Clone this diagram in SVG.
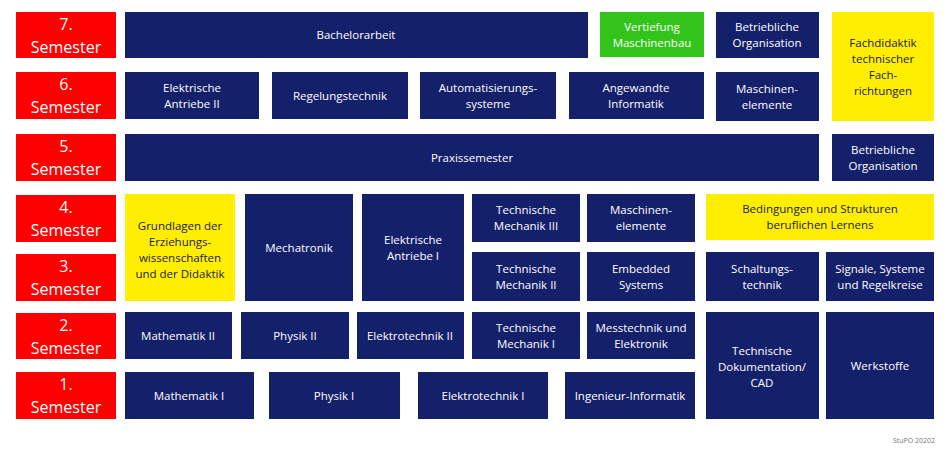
<svg xmlns="http://www.w3.org/2000/svg" width="950" height="460" viewBox="0 0 950 460">
<style>
text{font-family:"Open Sans","Liberation Sans",sans-serif;text-anchor:middle;font-size:11.5px;fill:#fff}
.s rect{fill:#ff0000}
.s text{font-size:16px}
.n rect{fill:#15206b}
.y rect{fill:#ffee00}
.y text{fill:#1a1a40}
.g rect{fill:#33c41c}
</style>
<rect width="950" height="460" fill="#fff"/>
<g class="s" id="sem7"><rect x="16" y="12" width="100" height="46"/><text x="66" y="30">7.</text><text x="66" y="53">Semester</text></g>
<g class="s" id="sem6"><rect x="16" y="72" width="100" height="47"/><text x="66" y="90">6.</text><text x="66" y="113">Semester</text></g>
<g class="s" id="sem5"><rect x="16" y="134" width="100" height="47"/><text x="66" y="152">5.</text><text x="66" y="175">Semester</text></g>
<g class="s" id="sem4"><rect x="16" y="195" width="100" height="47"/><text x="66" y="213">4.</text><text x="66" y="236">Semester</text></g>
<g class="s" id="sem3"><rect x="16" y="254" width="100" height="47"/><text x="66" y="272">3.</text><text x="66" y="295">Semester</text></g>
<g class="s" id="sem2"><rect x="16" y="313" width="100" height="46"/><text x="66" y="331">2.</text><text x="66" y="354">Semester</text></g>
<g class="s" id="sem1"><rect x="16" y="372" width="100" height="47"/><text x="66" y="390">1.</text><text x="66" y="413">Semester</text></g>

<g class="n" id="bachelor"><rect x="125" y="12" width="463" height="46"/><text x="356" y="39">Bachelorarbeit</text></g>
<g class="g" id="vertiefung"><rect x="600" y="12" width="104" height="45"/><text x="652" y="31">Vertiefung</text><text x="652" y="47">Maschinenbau</text></g>
<g class="n" id="betorg7"><rect x="716" y="12" width="103" height="46"/><text x="767" y="31">Betriebliche</text><text x="767" y="47">Organisation</text></g>
<g class="y" id="fachdidaktik"><rect x="832" y="12" width="102" height="109"/><text x="883" y="47">Fachdidaktik</text><text x="883" y="63">technischer</text><text x="883" y="79">Fach-</text><text x="883" y="95">richtungen</text></g>

<g class="n" id="ea2"><rect x="125" y="72" width="134" height="47"/><text x="192" y="92">Elektrische</text><text x="192" y="108">Antriebe II</text></g>
<g class="n" id="regel"><rect x="272" y="72" width="136" height="47"/><text x="340" y="100">Regelungstechnik</text></g>
<g class="n" id="auto"><rect x="420" y="72" width="136" height="47"/><text x="488" y="92">Automatisierungs-</text><text x="488" y="108">systeme</text></g>
<g class="n" id="angew"><rect x="569" y="72" width="135" height="47"/><text x="636" y="92">Angewandte</text><text x="636" y="108">Informatik</text></g>
<g class="n" id="masch6"><rect x="716" y="72" width="103" height="49"/><text x="767" y="93">Maschinen-</text><text x="767" y="109">elemente</text></g>

<g class="n" id="praxis"><rect x="125" y="134" width="694" height="47"/><text x="472" y="162">Praxissemester</text></g>
<g class="n" id="betorg5"><rect x="832" y="134" width="102" height="47"/><text x="883" y="154">Betriebliche</text><text x="883" y="170">Organisation</text></g>

<g class="y" id="grundlagen"><rect x="125" y="194" width="110" height="107"/><text x="180" y="230">Grundlagen der</text><text x="180" y="246">Erziehungs-</text><text x="180" y="262">wissenschaften</text><text x="180" y="278">und der Didaktik</text></g>
<g class="n" id="mecha"><rect x="245" y="194" width="108" height="107"/><text x="299" y="252">Mechatronik</text></g>
<g class="n" id="ea1"><rect x="362" y="194" width="102" height="107"/><text x="413" y="244">Elektrische</text><text x="413" y="260">Antriebe I</text></g>
<g class="n" id="tm3"><rect x="472" y="194" width="108" height="48"/><text x="526" y="214">Technische</text><text x="526" y="230">Mechanik III</text></g>
<g class="n" id="masch4"><rect x="587" y="194" width="108" height="48"/><text x="641" y="214">Maschinen-</text><text x="641" y="230">elemente</text></g>
<g class="y" id="bedingungen"><rect x="706" y="194" width="228" height="46"/><text x="820" y="213">Bedingungen und Strukturen</text><text x="820" y="229">beruflichen Lernens</text></g>

<g class="n" id="tm2"><rect x="472" y="252" width="108" height="49"/><text x="526" y="273">Technische</text><text x="526" y="289">Mechanik II</text></g>
<g class="n" id="embedded"><rect x="587" y="252" width="108" height="49"/><text x="641" y="273">Embedded</text><text x="641" y="289">Systems</text></g>
<g class="n" id="schalt"><rect x="706" y="252" width="113" height="49"/><text x="762" y="273">Schaltungs-</text><text x="762" y="289">technik</text></g>
<g class="n" id="signale"><rect x="826" y="252" width="108" height="49"/><text x="880" y="273">Signale, Systeme</text><text x="880" y="289">und Regelkreise</text></g>

<g class="n" id="mathe2"><rect x="125" y="312" width="107" height="47"/><text x="178" y="340">Mathematik II</text></g>
<g class="n" id="physik2"><rect x="241" y="312" width="108" height="47"/><text x="295" y="340">Physik II</text></g>
<g class="n" id="et2"><rect x="357" y="312" width="107" height="47"/><text x="410" y="340">Elektrotechnik II</text></g>
<g class="n" id="tm1"><rect x="472" y="312" width="108" height="47"/><text x="526" y="332">Technische</text><text x="526" y="348">Mechanik I</text></g>
<g class="n" id="mess"><rect x="587" y="312" width="108" height="47"/><text x="641" y="332">Messtechnik und</text><text x="641" y="348">Elektronik</text></g>
<g class="n" id="doku"><rect x="706" y="312" width="113" height="107"/><text x="762" y="355">Technische</text><text x="762" y="371">Dokumentation/</text><text x="762" y="387">CAD</text></g>
<g class="n" id="werkstoffe"><rect x="826" y="312" width="108" height="107"/><text x="880" y="370">Werkstoffe</text></g>

<g class="n" id="mathe1"><rect x="125" y="372" width="129" height="47"/><text x="189" y="400">Mathematik I</text></g>
<g class="n" id="physik1"><rect x="269" y="372" width="131" height="47"/><text x="334" y="400">Physik I</text></g>
<g class="n" id="et1"><rect x="418" y="372" width="130" height="47"/><text x="483" y="400">Elektrotechnik I</text></g>
<g class="n" id="info"><rect x="565" y="372" width="130" height="47"/><text x="630" y="400">Ingenieur-Informatik</text></g>

<g id="connectors"></g>
<text x="935" y="443" style="font-size:7px;fill:#777;text-anchor:end">StuPO 20202</text>
</svg>
